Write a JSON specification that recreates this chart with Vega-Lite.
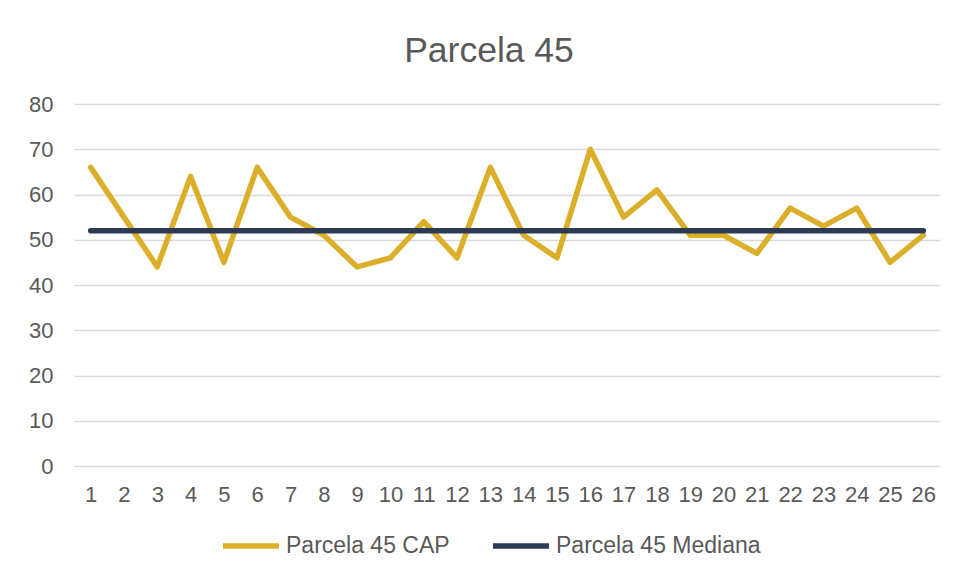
{
  "$schema": "https://vega.github.io/schema/vega-lite/v6.json",
  "width": 866,
  "height": 362,
  "autosize": {"type": "none"},
  "padding": {"left": 74, "top": 104, "right": 27, "bottom": 111},
  "background": "white",
  "title": {
    "text": "Parcela 45",
    "anchor": "middle",
    "dx": -18,
    "dy": 45,
    "offset": 41,
    "baseline": "alphabetic",
    "font": "Liberation Sans",
    "fontSize": 35.5,
    "fontWeight": "normal",
    "color": "#595959"
  },
  "data": {
    "values": [
      {"x": 1, "serie": "Parcela 45 CAP", "v": 66},
      {"x": 2, "serie": "Parcela 45 CAP", "v": 55},
      {"x": 3, "serie": "Parcela 45 CAP", "v": 44},
      {"x": 4, "serie": "Parcela 45 CAP", "v": 64},
      {"x": 5, "serie": "Parcela 45 CAP", "v": 45},
      {"x": 6, "serie": "Parcela 45 CAP", "v": 66},
      {"x": 7, "serie": "Parcela 45 CAP", "v": 55},
      {"x": 8, "serie": "Parcela 45 CAP", "v": 51},
      {"x": 9, "serie": "Parcela 45 CAP", "v": 44},
      {"x": 10, "serie": "Parcela 45 CAP", "v": 46},
      {"x": 11, "serie": "Parcela 45 CAP", "v": 54},
      {"x": 12, "serie": "Parcela 45 CAP", "v": 46},
      {"x": 13, "serie": "Parcela 45 CAP", "v": 66},
      {"x": 14, "serie": "Parcela 45 CAP", "v": 51},
      {"x": 15, "serie": "Parcela 45 CAP", "v": 46},
      {"x": 16, "serie": "Parcela 45 CAP", "v": 70},
      {"x": 17, "serie": "Parcela 45 CAP", "v": 55},
      {"x": 18, "serie": "Parcela 45 CAP", "v": 61},
      {"x": 19, "serie": "Parcela 45 CAP", "v": 51},
      {"x": 20, "serie": "Parcela 45 CAP", "v": 51},
      {"x": 21, "serie": "Parcela 45 CAP", "v": 47},
      {"x": 22, "serie": "Parcela 45 CAP", "v": 57},
      {"x": 23, "serie": "Parcela 45 CAP", "v": 53},
      {"x": 24, "serie": "Parcela 45 CAP", "v": 57},
      {"x": 25, "serie": "Parcela 45 CAP", "v": 45},
      {"x": 26, "serie": "Parcela 45 CAP", "v": 51},
      {"x": 1, "serie": "Parcela 45 Mediana", "v": 52},
      {"x": 2, "serie": "Parcela 45 Mediana", "v": 52},
      {"x": 3, "serie": "Parcela 45 Mediana", "v": 52},
      {"x": 4, "serie": "Parcela 45 Mediana", "v": 52},
      {"x": 5, "serie": "Parcela 45 Mediana", "v": 52},
      {"x": 6, "serie": "Parcela 45 Mediana", "v": 52},
      {"x": 7, "serie": "Parcela 45 Mediana", "v": 52},
      {"x": 8, "serie": "Parcela 45 Mediana", "v": 52},
      {"x": 9, "serie": "Parcela 45 Mediana", "v": 52},
      {"x": 10, "serie": "Parcela 45 Mediana", "v": 52},
      {"x": 11, "serie": "Parcela 45 Mediana", "v": 52},
      {"x": 12, "serie": "Parcela 45 Mediana", "v": 52},
      {"x": 13, "serie": "Parcela 45 Mediana", "v": 52},
      {"x": 14, "serie": "Parcela 45 Mediana", "v": 52},
      {"x": 15, "serie": "Parcela 45 Mediana", "v": 52},
      {"x": 16, "serie": "Parcela 45 Mediana", "v": 52},
      {"x": 17, "serie": "Parcela 45 Mediana", "v": 52},
      {"x": 18, "serie": "Parcela 45 Mediana", "v": 52},
      {"x": 19, "serie": "Parcela 45 Mediana", "v": 52},
      {"x": 20, "serie": "Parcela 45 Mediana", "v": 52},
      {"x": 21, "serie": "Parcela 45 Mediana", "v": 52},
      {"x": 22, "serie": "Parcela 45 Mediana", "v": 52},
      {"x": 23, "serie": "Parcela 45 Mediana", "v": 52},
      {"x": 24, "serie": "Parcela 45 Mediana", "v": 52},
      {"x": 25, "serie": "Parcela 45 Mediana", "v": 52},
      {"x": 26, "serie": "Parcela 45 Mediana", "v": 52}
    ]
  },
  "mark": {"type": "line", "strokeWidth": 5.5, "strokeCap": "round", "strokeJoin": "round"},
  "encoding": {
    "x": {
      "field": "x",
      "type": "ordinal",
      "sort": null,
      "scale": {"type": "point", "padding": 0.5},
      "axis": {
        "title": null,
        "labelAngle": 0,
        "domain": false,
        "ticks": false,
        "labelPadding": 18,
        "labelFont": "Liberation Sans",
        "labelFontSize": 22,
        "labelColor": "#595959",
        "grid": false
      }
    },
    "y": {
      "field": "v",
      "type": "quantitative",
      "scale": {"domain": [0, 80], "nice": false},
      "axis": {
        "title": null,
        "values": [0, 10, 20, 30, 40, 50, 60, 70, 80],
        "domain": false,
        "ticks": false,
        "labelPadding": 21,
        "labelFont": "Liberation Sans",
        "labelFontSize": 22,
        "labelColor": "#595959",
        "gridColor": "#d9d9d9",
        "gridWidth": 1.3
      }
    },
    "color": {
      "field": "serie",
      "type": "nominal",
      "sort": ["Parcela 45 CAP", "Parcela 45 Mediana"],
      "scale": {"domain": ["Parcela 45 CAP", "Parcela 45 Mediana"], "range": ["#DCAF2B", "#2D3A56"]},
      "legend": {
        "title": null,
        "orient": "none",
        "direction": "horizontal",
        "legendX": 146,
        "legendY": 411,
        "symbolType": "stroke",
        "symbolSize": 3136,
        "symbolStrokeWidth": 5.5,
        "labelOffset": 4,
        "columnPadding": 32,
        "labelFont": "Liberation Sans",
        "labelFontSize": 23,
        "labelColor": "#595959",
        "labelLimit": 400
      }
    }
  },
  "config": {
    "view": {"stroke": null}
  }
}
